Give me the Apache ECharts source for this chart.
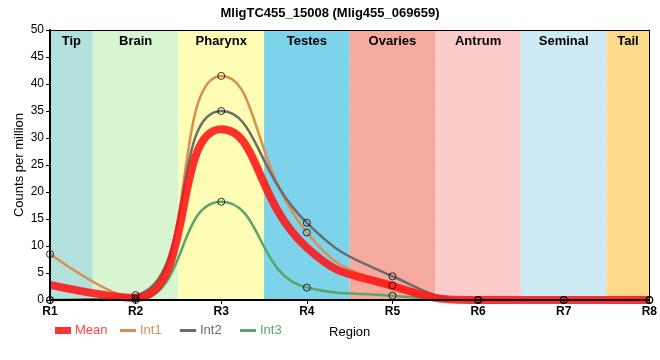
<!DOCTYPE html>
<html>
<head>
<meta charset="utf-8">
<script src="https://cdn.jsdelivr.net/npm/echarts@6/dist/echarts.min.js"></script>
<style>html,body{margin:0;padding:0;background:#fff;}#c{width:660px;height:360px;}</style>
</head>
<body>
<div id="c"></div>
<script>
const categories = ['R1','R2','R3','R4','R5','R6','R7','R8'];
const regionNames = ['Tip','Brain','Pharynx','Testes','Ovaries','Antrum','Seminal','Tail'];
const regionColors = ['#b3e1dd','#d6f5d0','#fdfdb5','#7dd4ea','#f5aa9d','#fecbcb','#cdeaf4','#fdd98b'];
const meanVals = [2.8, 0.4, 31.6, 9.7, 2.6, 0, 0, 0];
const int1Vals = [8.5, 0.3, 41.5, 12.5, 2.7, 0, 0, 0];
const int2Vals = [0, 0.9, 35.0, 14.3, 4.4, 0, 0, 0];
const int3Vals = [0, 0, 18.2, 2.3, 0.8, 0, 0, 0];
const yTicks = [0, 5, 10, 15, 20, 25, 30, 35, 40, 45, 50];

const FONT = '"Liberation Sans", Arial, sans-serif';
const cMean = 'rgba(255,20,20,0.88)';
const cInt1 = '#de8d4f';
const cInt2 = '#6b6b6b';
const cInt3 = '#5ba56a';

const toXY = arr => arr.map((v, i) => [i + 1, v]);
const n = categories.length;

const bands = regionNames.map((name, i) => [
  { name: name, xAxis: Math.max(1, i + 0.5), itemStyle: { color: regionColors[i] } },
  { xAxis: Math.min(n, i + 1.5) }
]);

const baseX = { type: 'value', min: 1, max: n, interval: 1, gridIndex: 0 };
const baseY = { type: 'value', min: yTicks[0], max: yTicks[yTicks.length - 1], interval: 5, gridIndex: 0 };

const legendItem = (name, left, h, color, textColor) => ({
  left: left, top: 324, padding: 0, itemWidth: 16, itemHeight: h,
  textStyle: { fontFamily: FONT, fontSize: 13, padding: [0, 0, 0, -1] },
  data: [{ name: name, icon: 'rect', itemStyle: { color: color }, textStyle: { color: textColor } }]
});

const chart = echarts.init(document.getElementById('c'), null, { renderer: 'canvas' });
chart.setOption({
  animation: false,
  textStyle: { fontFamily: FONT },
  title: {
    text: 'MligTC455_15008 (Mlig455_069659)',
    left: 'center', top: 2,
    textStyle: { fontFamily: FONT, fontSize: 13, fontWeight: 'bold', color: '#000' }
  },
  grid: { left: 50, right: 10, top: 30, bottom: 60 },
  legend: [
    legendItem('Mean', 55, 7, cMean, '#ff4545'),
    legendItem('Int1', 120, 3, cInt1, cInt1),
    legendItem('Int2', 180, 3, cInt2, cInt2),
    legendItem('Int3', 240, 3, cInt3, cInt3)
  ],
  xAxis: [
    Object.assign({}, baseX, {
      position: 'bottom', z: 1,
      name: 'Region', nameLocation: 'middle', nameGap: 26, nameMoveOverlap: false,
      nameTextStyle: { fontFamily: FONT, fontSize: 13, color: '#000' },
      axisLine: { show: false }, axisTick: { show: false },
      axisLabel: { formatter: v => categories[v - 1] || '', color: '#000', fontWeight: 'bold', fontSize: 12, margin: 6 },
      splitLine: { show: true, lineStyle: { color: '#cfcfcf', width: 1 } }
    }),
    Object.assign({}, baseX, {
      position: 'bottom', z: 10, offset: 0,
      axisLine: { show: true, onZero: false, lineStyle: { color: '#000', width: 2 } },
      axisTick: { show: true, length: 4, lineStyle: { color: '#000' } },
      axisLabel: { show: false }, splitLine: { show: false }
    }),
    Object.assign({}, baseX, {
      position: 'top', z: 10,
      axisLine: { show: true, onZero: false, lineStyle: { color: '#000', width: 1 } },
      axisTick: { show: false }, axisLabel: { show: false }, splitLine: { show: false }
    })
  ],
  yAxis: [
    Object.assign({}, baseY, {
      position: 'left', z: 1,
      name: 'Counts per million', nameLocation: 'middle', nameGap: 24, nameMoveOverlap: false,
      nameTextStyle: { fontFamily: FONT, fontSize: 13, color: '#000' },
      axisLine: { show: false }, axisTick: { show: false },
      axisLabel: { color: '#000', fontSize: 12, margin: 6 },
      splitLine: { show: true, lineStyle: { color: '#cfcfcf', width: 1 } }
    }),
    Object.assign({}, baseY, {
      position: 'left', z: 10, offset: 0,
      axisLine: { show: true, onZero: false, lineStyle: { color: '#000', width: 2 } },
      axisTick: { show: true, length: 4, lineStyle: { color: '#000' } },
      axisLabel: { show: false }, splitLine: { show: false }
    }),
    Object.assign({}, baseY, {
      position: 'right', z: 10,
      axisLine: { show: true, onZero: false, lineStyle: { color: '#000', width: 1 } },
      axisTick: { show: false }, axisLabel: { show: false }, splitLine: { show: false }
    })
  ],
  series: [
    {
      name: 'bands', type: 'line', data: [], z: 0, silent: true,
      markArea: {
        silent: true,
        label: { show: true, position: 'insideTop', distance: 5, color: '#000', fontWeight: 'bold', fontSize: 13, fontFamily: FONT },
        data: bands
      }
    },
    {
      name: 'Int1', type: 'line', data: toXY(int1Vals), smooth: 0.5, showSymbol: false, z: 2,
      lineStyle: { color: cInt1, width: 2.5 }, itemStyle: { color: cInt1 }
    },
    {
      name: 'Int2', type: 'line', data: toXY(int2Vals), smooth: 0.5, showSymbol: false, z: 2,
      lineStyle: { color: cInt2, width: 2.5 }, itemStyle: { color: cInt2 }
    },
    {
      name: 'Int3', type: 'line', data: toXY(int3Vals), smooth: 0.5, showSymbol: false, z: 2,
      lineStyle: { color: cInt3, width: 2.5 }, itemStyle: { color: cInt3 }
    },
    {
      name: 'Mean', type: 'line', data: toXY(meanVals), smooth: 0.5, showSymbol: false, z: 3,
      lineStyle: { color: cMean, width: 8 }, itemStyle: { color: cMean }
    },
    ...[int1Vals, int2Vals, int3Vals].map((arr, k) => ({
      name: 'pts' + (k + 1), type: 'scatter', data: toXY(arr), z: 4, symbol: 'circle', symbolSize: 7,
      itemStyle: { color: 'rgba(255,255,255,0)', borderColor: '#000', borderWidth: 1 }
    }))
  ]
});
</script>
</body>
</html>
